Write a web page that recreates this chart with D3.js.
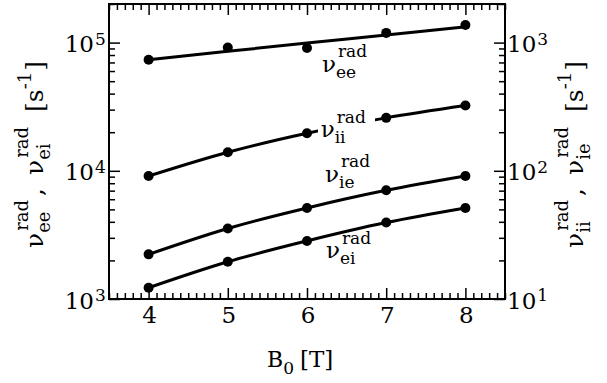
<!DOCTYPE html>
<html>
<head>
<meta charset="utf-8">
<script src="https://cdn.jsdelivr.net/npm/d3@7"></script>
<style>
body { margin: 0; background: #fff; }
svg { display: block; }
text { font-family: "DejaVu Serif", serif; fill: #000; }
</style>
</head>
<body>
<svg id="chart" width="607" height="383"></svg>
<script>
// data
var fieldB = [4, 5, 6, 7, 8];
// left axis
var nuEE = [7.35e4, 9.16e4, 9.06e4, 1.19e5, 1.37e5];
var nuEEfit = [7.35e4, 8.55e4, 9.91e4, 1.146e5, 1.327e5];
var nuEI = [1224, 1951, 2838, 3946, 5128];
// right axis
var nuII = [91.0, 139.6, 196.3, 258.8, 322.8];
var nuIE = [22.3, 35.5, 51.3, 70.4, 91.0];

var xTicks = [4, 5, 6, 7, 8];
var yLeftTicks = [1e3, 1e4, 1e5];
var yRightTicks = [1e1, 1e2, 1e3];

var svg = d3.select('#chart');
var pL = 109, pR = 505, pT = 4, pB = 299;

var x = d3.scaleLinear().domain([3.5, 8.5]).range([pL, pR]);
var yL = d3.scaleLog().domain([1e3, 2e5]).range([pB, pT]);
var yR = d3.scaleLog().domain([1e1, 2e3]).range([pB, pT]);

// lays out text pieces left to right; each group is stacked at the same x,
// a plain number is just a gap
function rich(g, x0, y0, groups) {
    var cx = x0;
    groups.forEach(function(grp) {
        if (typeof grp === 'number') { cx += grp; return; }
        var w = 0;
        grp.forEach(function(p) {
            var t = g.append('text')
                .attr('x', cx + (p[3] || 0))
                .attr('y', y0 + (p[2] || 0))
                .style('font-size', p[1] + 'px')
                .text(p[0]);
            w = Math.max(w, t.node().getComputedTextLength() + (p[3] || 0));
        });
        cx += w;
    });
    return cx - x0;
}

function nu(sub, big, small) {
    return [[['\u03bd', big]], [['rad', small, -0.62 * big, 2], [sub, small, 0.27 * big]]];
}

// minor ticks
var xMinor = d3.range(35, 86).map(function(d) { return d / 10; })
    .filter(function(d) { return d % 1 !== 0; });
function logMinor(lo, hi) {
    var out = [];
    for (var e = lo; e < hi; e *= 10) {
        for (var k = 2; k <= 9; k++) if (k * e <= hi) out.push(k * e);
    }
    return out;
}
var yLMinor = logMinor(1e3, 2e5);
var yRMinor = logMinor(1e1, 2e3);

function tickAxis(axis, tr) {
    var g = svg.append('g').attr('transform', tr).call(axis);
    g.select('.domain').remove();
    g.selectAll('line').attr('stroke', '#000').attr('stroke-width', 1.5);
    g.selectAll('text').remove();
    return g;
}

// x ticks bottom and top, inward
tickAxis(d3.axisBottom(x).tickValues(xTicks).tickSize(-11), 'translate(0,' + pB + ')');
tickAxis(d3.axisBottom(x).tickValues(xMinor).tickSize(-6), 'translate(0,' + pB + ')');
tickAxis(d3.axisTop(x).tickValues(xTicks).tickSize(-11), 'translate(0,' + pT + ')');
tickAxis(d3.axisTop(x).tickValues(xMinor).tickSize(-6), 'translate(0,' + pT + ')');
// y ticks left and right, inward
tickAxis(d3.axisLeft(yL).tickValues(yLeftTicks).tickSize(-11), 'translate(' + pL + ',0)');
tickAxis(d3.axisLeft(yL).tickValues(yLMinor).tickSize(-6), 'translate(' + pL + ',0)');
tickAxis(d3.axisRight(yR).tickValues(yRightTicks).tickSize(-11), 'translate(' + pR + ',0)');
tickAxis(d3.axisRight(yR).tickValues(yRMinor).tickSize(-6), 'translate(' + pR + ',0)');

// frame
svg.append('rect')
    .attr('x', pL).attr('y', pT)
    .attr('width', pR - pL).attr('height', pB - pT)
    .attr('fill', 'none').attr('stroke', '#000').attr('stroke-width', 2);

// tick labels
svg.append('g').selectAll('text').data(xTicks).join('text')
    .attr('x', function(d) { return x(d) + 1; })
    .attr('y', pB + 24)
    .attr('text-anchor', 'middle')
    .style('font-size', '23px')
    .text(function(d) { return d; });

yLeftTicks.forEach(function(v) {
    var yy = yL(v);
    svg.append('text').attr('x', 94).attr('y', yy + 9.5)
        .attr('text-anchor', 'end').style('font-size', '23px').text('10');
    svg.append('text').attr('x', 95).attr('y', yy + 2)
        .style('font-size', '17px').text(Math.round(Math.log10(v)));
});
yRightTicks.forEach(function(v) {
    var yy = yR(v);
    var w = rich(svg, 507, yy + 9.5, [[['10', 23]]]);
    svg.append('text').attr('x', 507 + w + 1).attr('y', yy + 2)
        .style('font-size', '17px').text(Math.round(Math.log10(v)));
});

// curves and points
var series = [
    { vals: nuEE, fit: nuEEfit, y: yL },
    { vals: nuEI, fit: nuEI, y: yL },
    { vals: nuII, fit: nuII, y: yR },
    { vals: nuIE, fit: nuIE, y: yR }
];
var curves = svg.append('g');
var labels = svg.append('g');
var dots = svg.append('g');
series.forEach(function(s) {
    var line = d3.line()
        .x(function(d, i) { return x(fieldB[i]); })
        .y(function(d) { return s.y(d); })
        .curve(d3.curveMonotoneX);
    curves.append('path').datum(s.fit)
        .attr('d', line)
        .attr('fill', 'none').attr('stroke', '#000').attr('stroke-width', 3);
    dots.selectAll(null).data(s.vals).join('circle')
        .attr('cx', function(d, i) { return x(fieldB[i]); })
        .attr('cy', function(d) { return s.y(d); })
        .attr('r', 5).attr('fill', '#000');
});

// in-plot labels
labels.append('rect').attr('x', 318).attr('y', 108).attr('width', 57).attr('height', 36).attr('fill', '#fff');
rich(labels, 322, 71.7, nu('ee', 23, 17));
rich(labels, 320.7, 137, nu('ii', 23, 17));
rich(labels, 325, 181.7, nu('ie', 23, 17));
rich(labels, 326, 258, nu('ei', 23, 17));

// axis titles
var xt = svg.append('g');
rich(xt, 267, 366.7, [[['B', 22]], [['0', 17, 7]], 6, [['[T]', 23]]]);

function yTitle(tx, a, b) {
    var g = svg.append('g').attr('transform', 'translate(' + tx + ',248) rotate(-90)');
    rich(g, 0, 0, nu(a, 25, 18).concat([4, [[',', 25]], 13]).concat(nu(b, 25, 18))
        .concat([15, [['[s', 25]], [['-1', 18, -12]], 1, [[']', 25]]]));
}
yTitle(43, 'ee', 'ei');
yTitle(583, 'ii', 'ie');
</script>
</body>
</html>
